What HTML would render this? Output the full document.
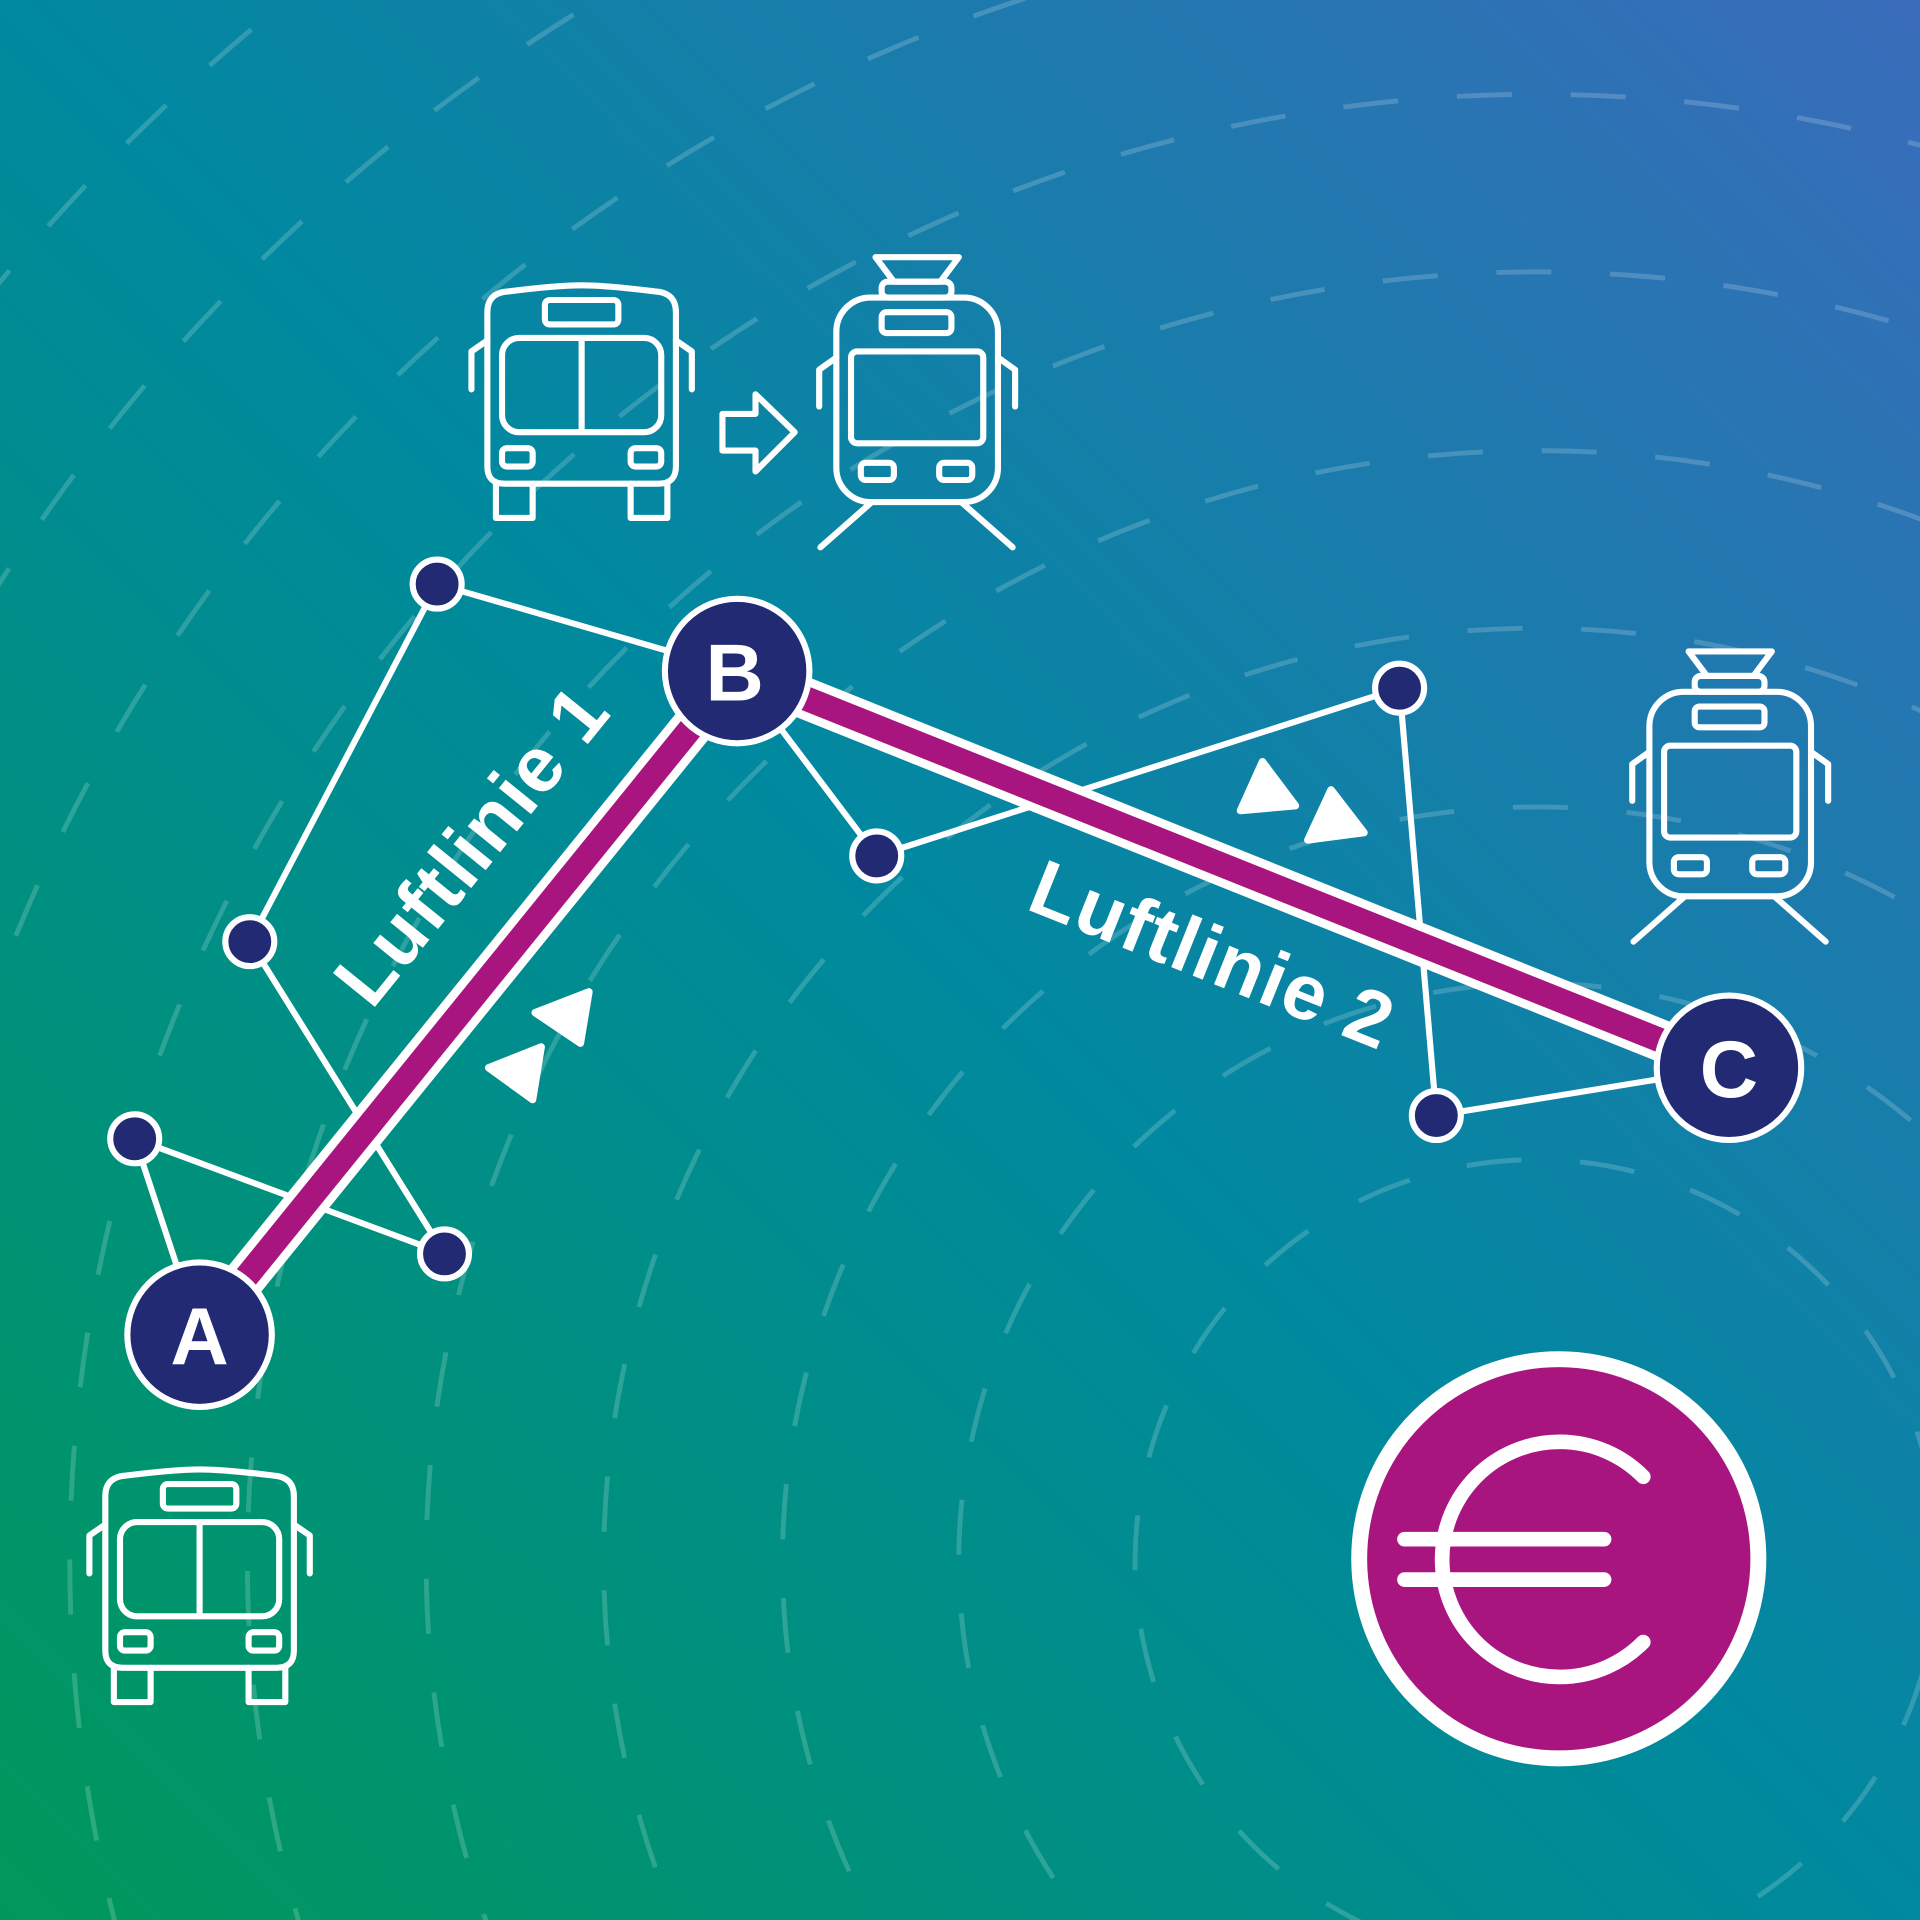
<!DOCTYPE html>
<html><head><meta charset="utf-8"><style>
html,body{margin:0;padding:0;overflow:hidden;width:1920px;height:1920px;position:relative;}
svg{display:block;position:absolute;left:0;top:0;}
</style></head><body>
<svg width="1920" height="1920" viewBox="0 0 1568 1568" xmlns="http://www.w3.org/2000/svg">
<defs>
<linearGradient id="bg" x1="0" y1="1" x2="1" y2="0">
<stop offset="0" stop-color="#00985a"/>
<stop offset="0.5" stop-color="#00899f"/>
<stop offset="1" stop-color="#3a6cbb"/>
</linearGradient>
<g id="bus" fill="none" stroke="#fff" stroke-width="5" stroke-linejoin="round" stroke-linecap="round">
<path d="M-77,22 Q-77,6 -60,5 Q-20,0 0,0 Q20,0 60,5 Q77,6 77,22 L77,148 Q77,162 63,162 L-63,162 Q-77,162 -77,148 Z"/>
<path d="M-77,45 L-90,54 L-90,85 M77,45 L90,54 L90,85"/>
<rect x="-30" y="12" width="60" height="20" rx="4"/>
<rect x="-65" y="43" width="130" height="77" rx="14"/>
<line x1="0" y1="43" x2="0" y2="120"/>
<rect x="-65" y="133" width="25" height="15" rx="4"/>
<rect x="40" y="133" width="25" height="15" rx="4"/>
<path d="M-70,162 L-70,190 L-40,190 L-40,162 M70,162 L70,190 L40,190 L40,162"/>
</g>
<g id="tram" fill="none" stroke="#fff" stroke-width="5" stroke-linejoin="round" stroke-linecap="round">
<path d="M-34,2 L34,2 L19,22 L-19,22 Z"/>
<rect x="-29" y="22" width="57" height="13" rx="5"/>
<rect x="-66" y="35" width="132" height="167" rx="28"/>
<path d="M-66,84 L-80,94 L-80,124 M66,84 L80,94 L80,124"/>
<rect x="-29" y="47" width="57" height="17" rx="4"/>
<rect x="-54" y="79" width="108" height="75" rx="5"/>
<rect x="-46" y="170" width="27" height="14" rx="4"/>
<rect x="18" y="170" width="27" height="14" rx="4"/>
<path d="M-37,202 L-79,239 M36,202 L78,239"/>
</g>
</defs>
<rect width="1568" height="1568" fill="url(#bg)"/>
<g fill="none" stroke="#fff" stroke-opacity="0.18" stroke-width="4" stroke-dasharray="45 48">
<circle cx="1255" cy="1275" r="328"/>
<circle cx="1255" cy="1275" r="472"/>
<circle cx="1255" cy="1275" r="616"/>
<circle cx="1255" cy="1275" r="762"/>
<circle cx="1255" cy="1275" r="907"/>
<circle cx="1255" cy="1275" r="1053"/>
<circle cx="1255" cy="1275" r="1198"/>
<circle cx="1255" cy="1275" r="1343"/>
<circle cx="1255" cy="1275" r="1488"/>
<circle cx="1255" cy="1275" r="1633"/>
</g>
<g stroke="#fff" stroke-width="5" fill="none">
<path d="M357,477 L602,548 M357,477 L204,769 L363,1024 M110,930 L363,1024 M110,930 L163,1090 M602,548 L716,699 L1143,562 L1173,911 L1412,872"/>
</g>
<g stroke-linecap="butt">
<line x1="163" y1="1090" x2="602" y2="548" stroke="#fff" stroke-width="34"/>
<line x1="163" y1="1090" x2="602" y2="548" stroke="#a8157f" stroke-width="20"/>
<line x1="602" y1="548" x2="1412" y2="872" stroke="#fff" stroke-width="34"/>
<line x1="602" y1="548" x2="1412" y2="872" stroke="#a8157f" stroke-width="20"/>
</g>
<g fill="#222a73" stroke="#fff" stroke-width="5">
<circle cx="357" cy="477" r="20"/><circle cx="204" cy="769" r="20"/>
<circle cx="110" cy="930" r="20"/><circle cx="363" cy="1024" r="20"/>
<circle cx="716" cy="699" r="20"/><circle cx="1143" cy="562" r="20"/>
<circle cx="1173" cy="911" r="20"/>
<circle cx="163" cy="1090" r="59"/><circle cx="602" cy="548" r="59"/><circle cx="1412" cy="872" r="59"/>
</g>
<g fill="#fff" font-family="Liberation Sans, sans-serif" font-weight="bold" font-size="66" text-anchor="middle">
<text x="163" y="1114">A</text><text x="600" y="572">B</text><text x="1412" y="896">C</text>
</g>
<g fill="#fff" font-family="Liberation Sans, sans-serif" font-weight="bold" font-size="64" text-anchor="middle" letter-spacing="1">
<text transform="translate(402,704) rotate(-51)">Luftlinie 1</text>
<text transform="translate(982,800) rotate(21.8)">Luftlinie 2</text>
</g>
<g fill="#fff" stroke="#fff" stroke-width="6" stroke-linejoin="round">
<polygon points="437,827 481,810 474,852"/>
<polygon points="399,872 442,855 435,898"/>
<polygon points="1013,662 1031,622 1058,658"/>
<polygon points="1068,686 1087,645 1114,680"/>
</g>
<use href="#bus" x="475" y="233"/>
<use href="#bus" x="163" y="1200"/>
<use href="#tram" x="749" y="208"/>
<use href="#tram" x="1413" y="530"/>
<polygon points="590,338 617,338 617,322 649,353 617,385 617,368 590,368" fill="none" stroke="#fff" stroke-width="5" stroke-linejoin="round"/>
<circle cx="1273" cy="1273" r="163" fill="#a8157f" stroke="#fff" stroke-width="13"/>
<g fill="none" stroke="#fff" stroke-width="12" stroke-linecap="round">
<path d="M1342,1206 A96,96 0 1 0 1342,1341"/>
<line x1="1147" y1="1257" x2="1310" y2="1257"/>
<line x1="1147" y1="1290" x2="1310" y2="1290"/>
</g>
</svg>
</body></html>
